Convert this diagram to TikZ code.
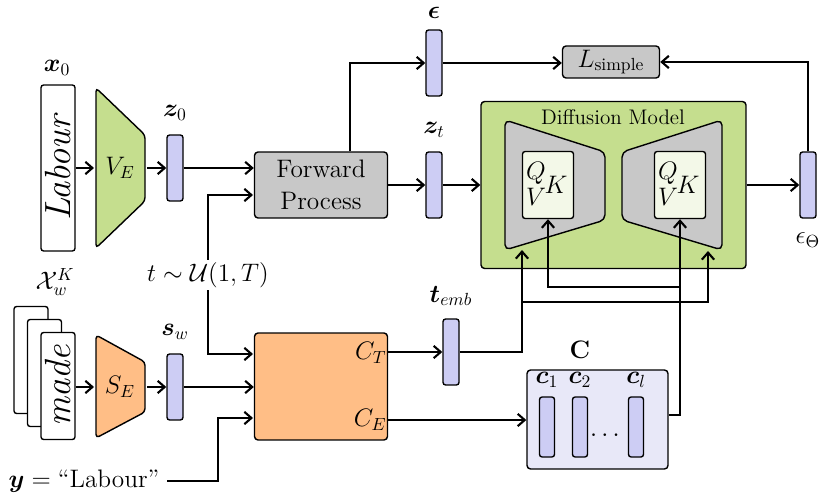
\documentclass[tikz,border=0pt]{standalone}
\usepackage{amsmath,bm}
\usetikzlibrary{positioning,arrows.meta}
\definecolor{vgreen}{HTML}{C5DE8E}
\definecolor{sorange}{HTML}{FFBE86}
\definecolor{barblue}{HTML}{CDCDF4}
\definecolor{boxgray}{HTML}{C8C8C8}
\definecolor{qvkfill}{HTML}{F3F8E8}
\definecolor{cfill}{HTML}{E8E8F8}
\tikzset{
  vec/.style={draw, rounded corners=1.5pt, fill=barblue, minimum width=0.32cm, minimum height=1.32cm, inner sep=0pt},
  smallvec/.style={vec, minimum width=0.3cm, minimum height=1.2cm},
  img/.style={draw, rounded corners=1.5pt, fill=white, minimum width=0.68cm, minimum height=2.14cm, inner sep=0pt},
  proc/.style={draw, rounded corners=2pt, fill=boxgray, minimum width=2.66cm, minimum height=1.32cm, align=center},
  qvk/.style={draw, rounded corners=1.5pt, fill=qvkfill, minimum width=1.02cm, minimum height=1.34cm},
  arr/.style={-{Straight Barb[length=4pt,width=7pt]}, line width=1.2pt},
  ln/.style={line width=1.2pt},
}
\begin{document}
\begin{tikzpicture}[x=0.02cm,y=-0.02cm, thick, every node/.style={font=\Large, inner sep=1pt}]
\useasboundingbox (0,0) rectangle (830,499);
% visual branch
\node[img, minimum height=3.32cm] (x0) at (58,168) {\rotatebox{90}{\huge\itshape Labour}};
\node at (57,68) {$\bm{x}_0$};
\draw[fill=vgreen, rounded corners=2pt] (96,88) -- (145,135) -- (145,201) -- (96,248) -- cycle;
\node (ve) at (120,168) {$V_E$};
\node[vec] (z0) at (175,168) {};
\node at (175,113) {$\bm{z}_0$};
\node[proc] (fp) at (321,185) {Forward\\Process};
\draw[arr] (x0.east) -- (94,168);
\draw[arr] (147,168) -- (z0.west);
\draw[arr] (z0.east) -- (fp.west |- z0);
\node (t) at (208,275) {$t \sim \mathcal{U}(1,T)$};
\draw[arr] (t.north) |- (253,195);
% noise and target
\node[vec] (eps) at (434,63) {};
\node at (434,13) {$\bm{\epsilon}$};
\node[vec] (zt) at (434,185) {};
\node at (434,130) {$\bm{z}_t$};
\node[proc, minimum width=1.94cm, minimum height=0.64cm] (loss) at (611,62) {$L_{\text{simple}}$};
\draw[arr] (fp.north -| 350,0) |- (eps.west);
\draw[arr] (fp.east |- zt) -- (zt.west);
\draw[arr] (eps.east) -- (loss.west |- eps);
% diffusion model
\node[draw, rounded corners=2pt, fill=vgreen, minimum width=5.3cm, minimum height=3.34cm] (dm) at (613.5,185) {};
\node[font=\large] at (613,117) {Diffusion Model};
\draw[fill=boxgray, rounded corners=3pt] (505,120) -- (605,152) -- (605,220) -- (505,250) -- cycle;
\draw[fill=boxgray, rounded corners=3pt] (722,120) -- (622,152) -- (622,220) -- (722,250) -- cycle;
\node[qvk] (qa) at (548,185) {};
\node[qvk] (qb) at (680,185) {};
\foreach \q in {qa,qb} {
  \node at ([xshift=-0.24cm,yshift=0.24cm]\q) {$Q$};
  \node at ([xshift=-0.24cm,yshift=-0.24cm]\q) {$V$};
  \node at ([xshift=0.16cm]\q) {$K$};
}
\draw[arr] (zt.east) -- (dm.west |- zt);
\node[vec] (et) at (808,185) {};
\node at (808,240) {$\epsilon_\Theta$};
\draw[arr] (dm.east |- et) -- (et.west);
\draw[arr] (et.north) |- (loss.east);
% style branch
\node[img] (s1) at (31,360) {};
\node[img] (s2) at (44.5,373) {};
\node[img] (s3) at (58,386) {\rotatebox{90}{\huge\itshape made}};
\node at (55,282) {$\mathcal{X}_w^K$};
\draw[fill=sorange, rounded corners=2pt] (96,335) -- (145,362) -- (145,412) -- (96,438) -- cycle;
\node (se) at (120,387) {$S_E$};
\node[vec] (sw) at (175,387) {};
\node at (175,332) {$\bm{s}_w$};
\node[draw, rounded corners=2pt, fill=sorange, minimum width=2.66cm, minimum height=2.14cm] (cond) at (321,386.5) {};
\node[anchor=east] (ct) at (389,353) {$C_T$};
\node[anchor=east] (ce) at (389,420) {$C_E$};
\draw[arr] (s3.east |- se) -- (94,387);
\draw[arr] (147,387) -- (sw.west);
\draw[arr] (sw.east) -- (cond.west |- sw);
\draw[arr] (t.south) |- (253,354);
\node (y) at (84,481) {$\bm{y} = \text{``Labour''}$};
\draw[arr] ([xshift=3pt]y.east) -| (218,418) -- (253,418);
% embeddings
\node[vec] (temb) at (451,352) {};
\node at (451,296) {$\bm{t}_{emb}$};
\draw[arr] (cond.east |- temb) -- (temb.west);
\node[draw, rounded corners=2pt, fill=cfill, minimum width=2.82cm, minimum height=1.98cm] (cc) at (597.5,419.5) {};
\node at (580,350) {$\mathbf{C}$};
\node[smallvec] (c1) at (547,427) {};
\node[smallvec] (c2) at (580,427) {};
\node[smallvec] (cl) at (636,427) {};
\node at (547,380) {$\bm{c}_1$};
\node at (580,380) {$\bm{c}_2$};
\node at (636,380) {$\bm{c}_l$};
\node at (607,436) {$\cdots$};
\draw[arr] (cond.east |- ce) -- (cc.west |- ce);
% conditioning into the unet
\draw[arr] (temb.east) -| (522,250);
\draw[arr] (522,302) -| (708,251);
\draw[arr] (cc.east |- 0,415) -| (qb.south);
\draw[arr] (680,287) -| (qa.south);
\end{tikzpicture}
\end{document}
